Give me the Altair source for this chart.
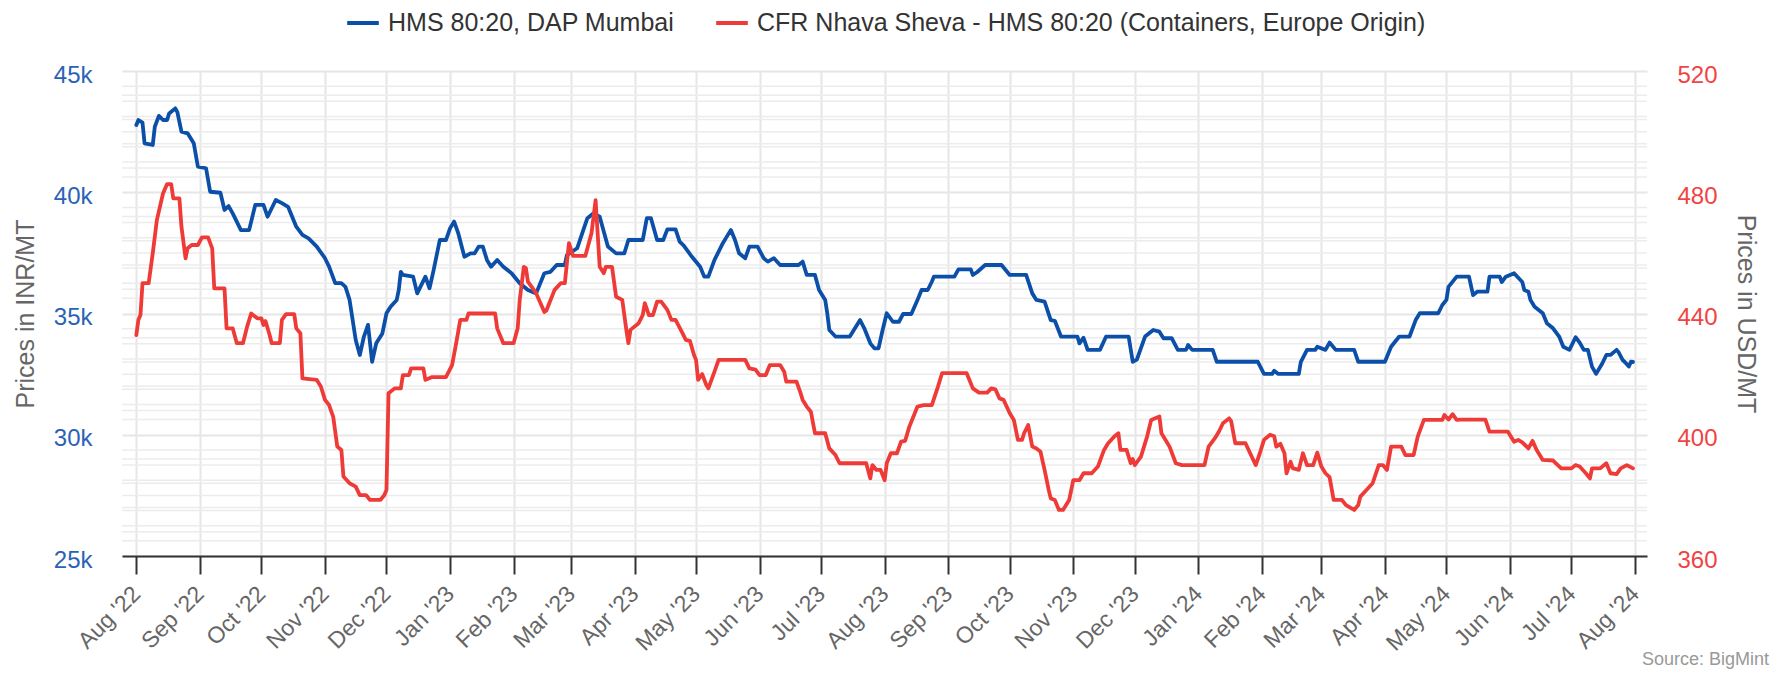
import altair as alt
import pandas as pd

BLUE_NAME = "HMS 80:20, DAP Mumbai"
RED_NAME = "CFR Nhava Sheva - HMS 80:20 (Containers, Europe Origin)"
BLUE = "#0b4fa8"
RED = "#ef3b37"

blue_dates = [
    "2022-08-01", "2022-08-02", "2022-08-04", "2022-08-05", "2022-08-09", "2022-08-10", "2022-08-12",
    "2022-08-14", "2022-08-16", "2022-08-17", "2022-08-20", "2022-08-21", "2022-08-23", "2022-08-26",
    "2022-08-29", "2022-08-31", "2022-09-04", "2022-09-06", "2022-09-11", "2022-09-13", "2022-09-15",
    "2022-09-17", "2022-09-21", "2022-09-25", "2022-09-28", "2022-10-02", "2022-10-04", "2022-10-08",
    "2022-10-11", "2022-10-14", "2022-10-16", "2022-10-18", "2022-10-21", "2022-10-24", "2022-10-28",
    "2022-11-01", "2022-11-03", "2022-11-06", "2022-11-09", "2022-11-11", "2022-11-13", "2022-11-14",
    "2022-11-16", "2022-11-18", "2022-11-20", "2022-11-22", "2022-11-24", "2022-11-26", "2022-11-29",
    "2022-12-01", "2022-12-03", "2022-12-06", "2022-12-07", "2022-12-08", "2022-12-09", "2022-12-14",
    "2022-12-16", "2022-12-20", "2022-12-22", "2022-12-24", "2022-12-27", "2022-12-30", "2023-01-01",
    "2023-01-03", "2023-01-05", "2023-01-08", "2023-01-11", "2023-01-13", "2023-01-15", "2023-01-17",
    "2023-01-19", "2023-01-21", "2023-01-24", "2023-01-27", "2023-01-31", "2023-02-04", "2023-02-08",
    "2023-02-12", "2023-02-16", "2023-02-19", "2023-02-22", "2023-02-26", "2023-02-27", "2023-03-04",
    "2023-03-07", "2023-03-09", "2023-03-12", "2023-03-15", "2023-03-19", "2023-03-23", "2023-03-27",
    "2023-03-29", "2023-04-05", "2023-04-07", "2023-04-09", "2023-04-12", "2023-04-15", "2023-04-17",
    "2023-04-21", "2023-04-23", "2023-04-25", "2023-04-29", "2023-05-03", "2023-05-05", "2023-05-07",
    "2023-05-10", "2023-05-14", "2023-05-16", "2023-05-18", "2023-05-20", "2023-05-22", "2023-05-25",
    "2023-05-27", "2023-05-31", "2023-06-03", "2023-06-05", "2023-06-08", "2023-06-11", "2023-06-20",
    "2023-06-22", "2023-06-24", "2023-06-28", "2023-06-30", "2023-07-03", "2023-07-04", "2023-07-05",
    "2023-07-08", "2023-07-15", "2023-07-20", "2023-07-22", "2023-07-25", "2023-07-27", "2023-07-29",
    "2023-07-31", "2023-08-02", "2023-08-05", "2023-08-08", "2023-08-10", "2023-08-14", "2023-08-17",
    "2023-08-19", "2023-08-22", "2023-08-24", "2023-08-25", "2023-09-04", "2023-09-06", "2023-09-12",
    "2023-09-13", "2023-09-15", "2023-09-19", "2023-09-27", "2023-10-01", "2023-10-09", "2023-10-12",
    "2023-10-14", "2023-10-18", "2023-10-21", "2023-10-23", "2023-10-26", "2023-11-03", "2023-11-04",
    "2023-11-06", "2023-11-08", "2023-11-14", "2023-11-17", "2023-11-28", "2023-11-30", "2023-12-02",
    "2023-12-06", "2023-12-10", "2023-12-13", "2023-12-15", "2023-12-19", "2023-12-22", "2023-12-26",
    "2023-12-27", "2023-12-29", "2024-01-08", "2024-01-10", "2024-01-30", "2024-02-02", "2024-02-06",
    "2024-02-07", "2024-02-09", "2024-02-19", "2024-02-20", "2024-02-23", "2024-02-27", "2024-02-28",
    "2024-03-03", "2024-03-05", "2024-03-08", "2024-03-17", "2024-03-19", "2024-04-01", "2024-04-04",
    "2024-04-08", "2024-04-13", "2024-04-16", "2024-04-18", "2024-04-27", "2024-04-29", "2024-05-01",
    "2024-05-02", "2024-05-06", "2024-05-12", "2024-05-14", "2024-05-16", "2024-05-21", "2024-05-22",
    "2024-05-27", "2024-05-28", "2024-05-30", "2024-06-03", "2024-06-07", "2024-06-08", "2024-06-10",
    "2024-06-11", "2024-06-13", "2024-06-17", "2024-06-19", "2024-06-22", "2024-06-25", "2024-06-27",
    "2024-06-30", "2024-07-03", "2024-07-05", "2024-07-07", "2024-07-09", "2024-07-11", "2024-07-13",
    "2024-07-16", "2024-07-18", "2024-07-20", "2024-07-23", "2024-07-24", "2024-07-26", "2024-07-27",
    "2024-07-29", "2024-07-30", "2024-07-31",
]
blue_inr = [
    42770, 42980, 42870, 42020, 41950, 42700, 43150,
    42980, 42980, 43250, 43460, 43300, 42500, 42430,
    42020, 41060, 40990, 40020, 39980, 39270, 39430,
    39130, 38440, 38440, 39480, 39480, 38990, 39680,
    39550, 39400, 38990, 38580, 38240, 38100, 37760,
    37280, 36930, 36250, 36250, 36100, 35560, 35010,
    33910, 33290, 34050, 34530, 33010, 33770, 34180,
    35010, 35280, 35560, 35970, 36720, 36590, 36520,
    35830, 36520, 36040, 36790, 38030, 38030, 38510,
    38790, 38310, 37340, 37480, 37480, 37760, 37760,
    37210, 36930, 37210, 36930, 36660, 36250, 35970,
    35830, 36660, 36720, 37000, 37000, 37410, 37690,
    38440, 38930, 39130, 38990, 37760, 37480, 37480,
    38030, 38030, 38930, 38930, 38030, 38030, 38470,
    38470, 37960, 37800, 37340, 36930, 36520, 36520,
    37210, 37890, 38170, 38440, 38030, 37480, 37280,
    37760, 37760, 37280, 37140, 37280, 37000, 37000,
    37140, 36590, 36590, 35970, 35560, 35010, 34320,
    34050, 34050, 34730, 34400, 33770, 33560, 33560,
    34320, 35010, 34660, 34660, 34980, 34980, 35560,
    35970, 35970, 36310, 36520, 36520, 36820, 36820,
    36590, 36700, 37000, 37000, 36590, 36590, 35830,
    35560, 35490, 34730, 34700, 34050, 34050, 33770,
    34000, 33500, 33500, 34050, 34050, 33010, 33100,
    34050, 34320, 34250, 33980, 33980, 33500, 33500,
    33700, 33500, 33500, 33010, 33010, 32510, 32510,
    32640, 32510, 32510, 33010, 33500, 33500, 33630,
    33500, 33800, 33500, 33500, 33010, 33010, 33630,
    34050, 34050, 34730, 35010, 35010, 35350, 35560,
    36100, 36520, 36520, 35760, 35900, 35900, 36520,
    36520, 36300, 36520, 36660, 36300, 35970, 35900,
    35560, 35280, 35010, 34600, 34390, 34050, 33630,
    33500, 34020, 33800, 33500, 33500, 32810, 32510,
    32940, 33290, 33290, 33500, 33400, 33080, 33000,
    32810, 33010, 33000,
]

red_dates = [
    "2022-08-01", "2022-08-02", "2022-08-03", "2022-08-04", "2022-08-07", "2022-08-09", "2022-08-11",
    "2022-08-14", "2022-08-16", "2022-08-18", "2022-08-19", "2022-08-22", "2022-08-23", "2022-08-25",
    "2022-08-26", "2022-08-28", "2022-08-31", "2022-09-02", "2022-09-05", "2022-09-07", "2022-09-08",
    "2022-09-13", "2022-09-14", "2022-09-17", "2022-09-19", "2022-09-22", "2022-09-24", "2022-09-26",
    "2022-09-29", "2022-10-01", "2022-10-02", "2022-10-03", "2022-10-05", "2022-10-06", "2022-10-10",
    "2022-10-11", "2022-10-13", "2022-10-17", "2022-10-18", "2022-10-20", "2022-10-21", "2022-10-28",
    "2022-10-30", "2022-11-01", "2022-11-03", "2022-11-05", "2022-11-07", "2022-11-09", "2022-11-10",
    "2022-11-13", "2022-11-16", "2022-11-18", "2022-11-21", "2022-11-23", "2022-11-28", "2022-11-30",
    "2022-12-01", "2022-12-02", "2022-12-05", "2022-12-08", "2022-12-09", "2022-12-12", "2022-12-13",
    "2022-12-19", "2022-12-20", "2022-12-23", "2022-12-30", "2023-01-02", "2023-01-04", "2023-01-06",
    "2023-01-09", "2023-01-10", "2023-01-23", "2023-01-24", "2023-01-27", "2023-02-01", "2023-02-03",
    "2023-02-04", "2023-02-06", "2023-02-07", "2023-02-08", "2023-02-12", "2023-02-16", "2023-02-17",
    "2023-02-21", "2023-02-24", "2023-02-26", "2023-02-28", "2023-03-02", "2023-03-08", "2023-03-11",
    "2023-03-13", "2023-03-14", "2023-03-15", "2023-03-17", "2023-03-18", "2023-03-21", "2023-03-23",
    "2023-03-26", "2023-03-28", "2023-03-29", "2023-03-30", "2023-04-03", "2023-04-05", "2023-04-06",
    "2023-04-08", "2023-04-10", "2023-04-12", "2023-04-14", "2023-04-17", "2023-04-19", "2023-04-21",
    "2023-04-24", "2023-04-26", "2023-04-28", "2023-04-30", "2023-05-01", "2023-05-02", "2023-05-04",
    "2023-05-06", "2023-05-07", "2023-05-10", "2023-05-12", "2023-05-25", "2023-05-27", "2023-05-30",
    "2023-06-01", "2023-06-04", "2023-06-06", "2023-06-11", "2023-06-13", "2023-06-14", "2023-06-19",
    "2023-06-21", "2023-06-22", "2023-06-24", "2023-06-26", "2023-06-28", "2023-07-03", "2023-07-05",
    "2023-07-08", "2023-07-10", "2023-07-23", "2023-07-25", "2023-07-26", "2023-07-28", "2023-07-30",
    "2023-08-01", "2023-08-02", "2023-08-04", "2023-08-07", "2023-08-09", "2023-08-11", "2023-08-13",
    "2023-08-17", "2023-08-20", "2023-08-24", "2023-08-27", "2023-08-29", "2023-09-10", "2023-09-13",
    "2023-09-16", "2023-09-20", "2023-09-22", "2023-09-24", "2023-09-26", "2023-09-28", "2023-10-01",
    "2023-10-03", "2023-10-05", "2023-10-07", "2023-10-08", "2023-10-10", "2023-10-12", "2023-10-14",
    "2023-10-16", "2023-10-18", "2023-10-20", "2023-10-21", "2023-10-23", "2023-10-25", "2023-10-27",
    "2023-10-30", "2023-11-01", "2023-11-04", "2023-11-06", "2023-11-10", "2023-11-13", "2023-11-16",
    "2023-11-18", "2023-11-21", "2023-11-23", "2023-11-24", "2023-11-27", "2023-11-29", "2023-11-30",
    "2023-12-01", "2023-12-04", "2023-12-07", "2023-12-09", "2023-12-13", "2023-12-14", "2023-12-16",
    "2023-12-18", "2023-12-21", "2023-12-24", "2024-01-04", "2024-01-06", "2024-01-09", "2024-01-11",
    "2024-01-13", "2024-01-16", "2024-01-17", "2024-01-19", "2024-01-24", "2024-01-27", "2024-01-29",
    "2024-01-31", "2024-02-02", "2024-02-05", "2024-02-07", "2024-02-08", "2024-02-10", "2024-02-12",
    "2024-02-13", "2024-02-15", "2024-02-16", "2024-02-19", "2024-02-21", "2024-02-23", "2024-02-26",
    "2024-02-28", "2024-03-01", "2024-03-03", "2024-03-05", "2024-03-07", "2024-03-11", "2024-03-13",
    "2024-03-17", "2024-03-19", "2024-03-20", "2024-03-23", "2024-03-26", "2024-03-29", "2024-03-31",
    "2024-04-02", "2024-04-04", "2024-04-09", "2024-04-11", "2024-04-15", "2024-04-17", "2024-04-20",
    "2024-04-29", "2024-04-30", "2024-05-02", "2024-05-04", "2024-05-06", "2024-05-08", "2024-05-20",
    "2024-05-22", "2024-05-31", "2024-06-03", "2024-06-05", "2024-06-07", "2024-06-10", "2024-06-12",
    "2024-06-14", "2024-06-17", "2024-06-22", "2024-06-26", "2024-07-01", "2024-07-03", "2024-07-05",
    "2024-07-08", "2024-07-10", "2024-07-11", "2024-07-15", "2024-07-18", "2024-07-20", "2024-07-23",
    "2024-07-25", "2024-07-28", "2024-07-31",
]
red_usd = [
    432.9, 437.9, 439.5, 450.0, 450.0, 459.9, 470.8,
    479.6, 482.7, 482.7, 478.0, 478.0, 468.6, 458.2,
    461.5, 462.6, 462.6, 465.1, 465.1, 461.5, 448.3,
    448.3, 435.1, 435.1, 430.2, 430.2, 435.6, 440.0,
    438.4, 438.4, 436.2, 437.5, 432.9, 430.2, 430.2,
    437.9, 439.8, 439.8, 435.1, 433.5, 418.6, 418.1,
    415.9, 411.5, 409.8, 406.0, 396.1, 395.0, 386.2,
    384.0, 382.9, 380.1, 380.1, 378.5, 378.5, 380.1,
    381.8, 413.7, 415.3, 415.3, 419.7, 419.7, 421.9,
    421.9, 418.1, 419.0, 419.0, 423.0, 430.2, 437.9,
    437.9, 440.0, 440.0, 435.1, 430.2, 430.2, 435.1,
    444.5, 455.4, 455.0, 450.5, 446.7, 440.5, 441.0,
    447.8, 450.0, 450.0, 463.2, 459.0, 459.0, 466.5,
    477.4, 466.5, 455.4, 453.3, 455.4, 455.4, 445.5,
    444.5, 434.6, 430.2, 434.6, 436.8, 439.5, 443.4,
    439.5, 439.5, 443.9, 443.9, 441.2, 437.9, 437.9,
    434.0, 431.3, 431.0, 426.3, 424.7, 418.1, 420.0,
    416.4, 415.3, 420.8, 424.7, 424.7, 421.9, 421.5,
    419.7, 419.7, 423.0, 423.0, 420.8, 417.5, 417.5,
    413.7, 411.5, 409.3, 407.6, 400.5, 400.5, 395.5,
    393.3, 390.6, 390.6, 385.6, 390.0, 388.4, 388.4,
    385.0, 390.6, 393.9, 393.9, 397.7, 398.0, 402.6,
    409.3, 409.8, 409.8, 415.9, 420.3, 420.3, 415.3,
    413.9, 413.9, 415.3, 415.0, 412.0, 411.5, 407.1,
    404.9, 398.3, 398.3, 400.5, 403.2, 396.1, 395.5,
    394.4, 388.4, 381.8, 379.0, 378.5, 375.2, 375.2,
    378.5, 385.0, 385.0, 387.3, 387.3, 389.5, 395.0,
    397.2, 399.4, 400.5, 395.0, 395.0, 390.6, 392.0,
    390.0, 392.8, 399.4, 404.9, 406.0, 400.5, 398.3,
    396.0, 390.6, 390.0, 390.0, 396.1, 398.8, 401.0,
    403.8, 405.4, 404.5, 397.2, 397.2, 392.8, 390.0,
    393.9, 398.3, 400.0, 399.5, 396.1, 397.0, 393.9,
    387.3, 391.1, 389.0, 388.4, 393.9, 390.0, 390.0,
    394.1, 389.5, 387.3, 386.0, 378.5, 378.5, 376.8,
    375.2, 376.8, 379.6, 381.8, 384.0, 390.0, 390.0,
    388.4, 396.1, 396.1, 393.3, 393.3, 399.4, 404.9,
    404.9, 406.5, 405.0, 406.8, 404.9, 405.0, 405.0,
    401.0, 401.0, 397.7, 398.3, 397.5, 395.5, 398.0,
    395.0, 391.7, 391.5, 388.9, 388.9, 390.0, 389.5,
    387.3, 385.6, 388.9, 388.9, 390.6, 387.3, 387.0,
    388.9, 390.0, 388.9,
]

month_ticks = [
    "2022-08", "2022-09", "2022-10", "2022-11", "2022-12", "2023-01", "2023-02", "2023-03",
    "2023-04", "2023-05", "2023-06", "2023-07", "2023-08", "2023-09", "2023-10", "2023-11",
    "2023-12", "2024-01", "2024-02", "2024-03", "2024-04", "2024-05", "2024-06", "2024-07", "2024-08",
]
inr_ticks = [25000, 30000, 35000, 40000, 45000]
usd_ticks = [360, 400, 440, 480, 520]
inr_minor = [26000, 27000, 28000, 29000, 31000, 32000, 33000, 34000,
             36000, 37000, 38000, 39000, 41000, 42000, 43000, 44000]
usd_minor = [365, 370, 375, 380, 385, 390, 395, 405, 410, 415, 420, 425, 430, 435,
             445, 450, 455, 460, 465, 470, 475, 485, 490, 495, 500, 505, 510, 515]

FONT = "Liberation Sans"

tick_values = [alt.DateTime(year=int(m[:4]), month=int(m[5:7]), date=1, utc=True) for m in month_ticks]
x_domain = [alt.DateTime(year=2022, month=7, date=25, hours=0, utc=True),
            alt.DateTime(year=2024, month=8, date=6, hours=20, utc=True)]

x_enc = alt.X(
    "date:T",
    scale=alt.Scale(type="utc", domain=x_domain),
    axis=alt.Axis(
        values=tick_values,
        labelExpr='utcFormat(datum.value, "%b \'%y")',
        labelAngle=-45, labelAlign="right", labelBaseline="middle",
        labelFontSize=23, labelColor="#666666", labelPadding=16, labelFont=FONT,
        labelFlush=False, labelOverlap=False, labelBound=False,
        tickSize=18, tickColor="#333333", tickWidth=2,
        domainColor="#333333", domainWidth=2,
        grid=True, gridColor="#e6e6e6", gridWidth=2,
        title=None,
    ),
)

color_enc = alt.Color(
    "series:N",
    scale=alt.Scale(domain=[BLUE_NAME, RED_NAME], range=[BLUE, RED]),
    legend=alt.Legend(
        orient="none", legendX=223, legendY=-66, direction="horizontal", title=None,
        symbolType="stroke", symbolStrokeWidth=4, symbolSize=1000,
        labelFontSize=25, labelColor="#333333", labelFont=FONT, labelLimit=2000,
        labelOffset=7, columnPadding=33, padding=0,
    ),
)

blue_df = pd.DataFrame({"date": blue_dates, "value": blue_inr, "series": BLUE_NAME})
red_df = pd.DataFrame({"date": red_dates, "value": red_usd, "series": RED_NAME})

inr_scale = alt.Scale(domain=[25000, 45000], nice=False, zero=False)
usd_scale = alt.Scale(domain=[360, 520], nice=False, zero=False)

minor_inr_layer = alt.Chart(pd.DataFrame({"v": inr_minor})).mark_rule(
    color="#ececec", strokeWidth=1.5
).encode(y=alt.Y("v:Q", scale=inr_scale, axis=None))

minor_usd_layer = alt.Chart(pd.DataFrame({"v": usd_minor})).mark_rule(
    color="#ececec", strokeWidth=1.5
).encode(y=alt.Y("v:Q", scale=usd_scale, axis=None))

blue_layer = alt.Chart(blue_df).mark_line(
    strokeWidth=3.8, strokeJoin="round", strokeCap="round"
).encode(
    x=x_enc,
    y=alt.Y(
        "value:Q", scale=inr_scale,
        axis=alt.Axis(
            orient="left", values=inr_ticks, labelExpr="datum.value / 1000 + 'k'",
            labelColor="#2a62b5", labelFontSize=24, labelFont=FONT, labelPadding=30, labelOffset=4,
            ticks=False, tickSize=0, domain=False,
            grid=True, gridColor="#e6e6e6", gridWidth=2,
            title="Prices in INR/MT", titleColor="#666666", titleFontSize=25,
            titleFontWeight="normal", titleFont=FONT, titlePadding=15,
        ),
    ),
    color=color_enc,
)

red_layer = alt.Chart(red_df).mark_line(
    strokeWidth=3.8, strokeJoin="round", strokeCap="round"
).encode(
    x=x_enc,
    y=alt.Y(
        "value:Q", scale=usd_scale,
        axis=alt.Axis(
            orient="right", values=usd_ticks,
            labelColor="#f04444", labelFontSize=24, labelFont=FONT, labelPadding=30, labelOffset=4,
            ticks=False, tickSize=0, domain=False, grid=False,
            title="Prices in USD/MT", titleColor="#666666", titleFontSize=25,
            titleFontWeight="normal", titleFont=FONT, titlePadding=15,
        ),
    ),
    color=color_enc,
)

source_layer = alt.Chart(pd.DataFrame({"t": ["Source: BigMint"]})).mark_text(
    align="right", baseline="alphabetic", fontSize=18, color="#999999", font=FONT
).encode(x=alt.value(1647), y=alt.value(594), text="t:N")

chart = alt.layer(
    minor_inr_layer, minor_usd_layer, blue_layer, red_layer, source_layer
).resolve_scale(y="independent").properties(
    width=1525, height=485,
    autosize=alt.AutoSizeParams(type="none"),
    padding={"left": 114, "top": 63, "right": 128, "bottom": 114},
).configure(font=FONT).configure_view(stroke=None)

chart.save("out.html", embed_options={"renderer": "svg", "actions": False})
